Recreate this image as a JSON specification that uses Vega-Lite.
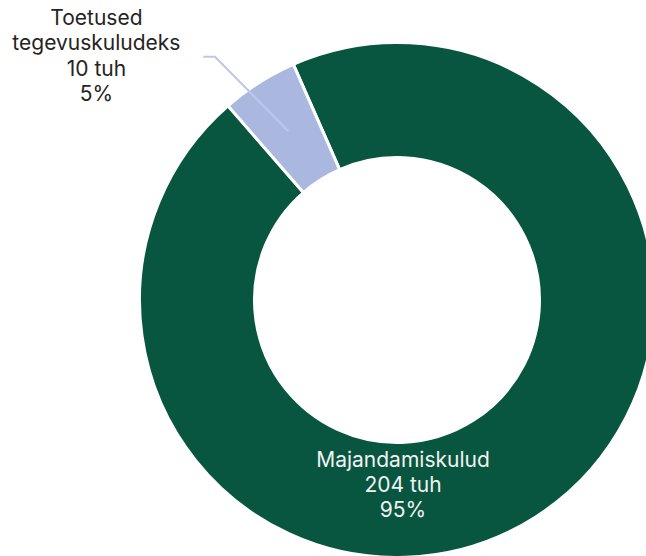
{
  "$schema": "https://vega.github.io/schema/vega-lite/v6.json",
  "width": 498,
  "height": 512,
  "autosize": "none",
  "padding": {"left": 148, "top": 44, "right": 0, "bottom": 0},
  "background": "white",
  "config": {"view": {"stroke": null}, "font": "Inter"},
  "data": {
    "values": [
      {"kategooria": "Majandamiskulud", "summa": 204.2, "silt": "Majandamiskulud\n204 tuh\n95%"},
      {"kategooria": "Toetused tegevuskuludeks", "summa": 10.3, "silt": "Toetused\ntegevuskuludeks\n10 tuh\n5%"}
    ]
  },
  "layer": [
    {
      "mark": {"type": "arc", "outerRadius": 257.5, "innerRadius": 142.5, "stroke": "white", "strokeWidth": 3},
      "encoding": {
        "theta": {"field": "summa", "type": "quantitative", "stack": true, "scale": {"range": [-0.4145, 5.8687]}},
        "color": {"field": "kategooria", "type": "nominal", "scale": {"domain": ["Majandamiskulud", "Toetused tegevuskuludeks"], "range": ["#08563F", "#AAB8E0"]}, "legend": null}
      }
    },
    {
      "transform": [{"filter": "datum.kategooria === 'Toetused tegevuskuludeks'"}],
      "mark": {"type": "point", "shape": "M-1,-0.874L-0.725,-0.874L1,0.874", "size": 7225, "filled": false, "stroke": "#BCC7EA", "strokeWidth": 2, "opacity": 1},
      "encoding": {
        "x": {"field": "summa", "type": "quantitative", "scale": {"range": [97.8, 97.8]}, "axis": null},
        "y": {"field": "summa", "type": "quantitative", "scale": {"range": [49.85, 49.85]}, "axis": null}
      }
    },
    {
      "transform": [{"filter": "datum.kategooria === 'Majandamiskulud'"}],
      "mark": {"type": "text", "radius": 161, "align": "center", "baseline": "middle", "fontSize": 21, "lineHeight": 25, "lineBreak": "\n", "color": "#F2F2F2", "font": "Inter"},
      "encoding": {
        "theta": {"field": "summa", "type": "quantitative", "stack": true, "scale": {"range": [3.1044, 3.1044]}},
        "text": {"field": "silt", "type": "nominal"}
      }
    },
    {
      "transform": [{"filter": "datum.kategooria === 'Toetused tegevuskuludeks'"}],
      "mark": {"type": "text", "radius": 411.8, "align": "center", "baseline": "middle", "fontSize": 21, "lineHeight": 25.5, "lineBreak": "\n", "color": "#252423", "font": "Inter"},
      "encoding": {
        "theta": {"field": "summa", "type": "quantitative", "stack": true, "scale": {"range": [-0.8182, -0.8182]}},
        "text": {"field": "silt", "type": "nominal"}
      }
    }
  ],
  "resolve": {"scale": {"theta": "independent"}}
}
